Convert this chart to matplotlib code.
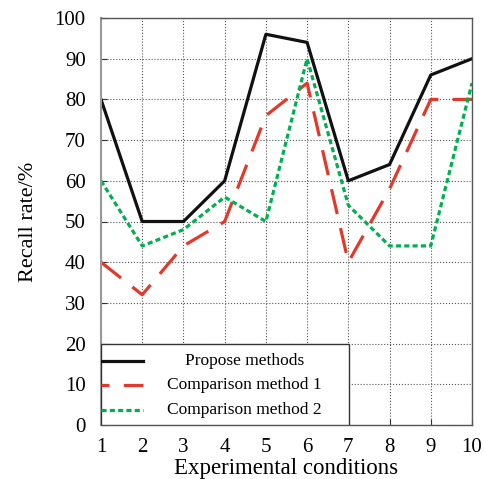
import matplotlib.pyplot as plt
import numpy as np
from matplotlib.lines import Line2D
from matplotlib.patches import Rectangle

plt.rcParams['font.family'] = ['Liberation Serif', 'DejaVu Serif']

conditions = [1, 2, 3, 4, 5, 6, 7, 8, 9, 10]
propose = [80, 50, 50, 60, 96, 94, 60, 64, 86, 90]
comp1 = [40, 32, 44, 50, 76, 84, 40, 58, 80, 80]
comp2 = [60, 44, 48, 56, 50, 90, 54, 44, 44, 84]
labels = ['Propose methods', 'Comparison method 1', 'Comparison method 2']

fig = plt.figure(figsize=(4.85, 4.79), dpi=100)
ax = fig.add_axes([101/485, 1-425/479, 371/485, 407/479])

styles = [dict(color='#111111', lw=2.3),
          dict(color='#e3392b', lw=2.3, dashes=(8, 4.5)),
          dict(color='#00b050', lw=2.3, dashes=(1.6, 1.0))]

for y, st, lab in zip([propose, comp1, comp2], styles, labels):
    ax.plot(conditions, y, label=lab, **st)

ax.set_xlim(1, 10)
ax.set_ylim(0, 100)
ax.set_xticks(conditions)
ax.set_yticks(np.arange(0, 101, 10))
ax.tick_params(axis='both', direction='in', labelsize=15, length=4, color='#333333')
ax.tick_params(axis='y', pad=11)
ax.tick_params(axis='x', pad=9)
ax.grid(True, linestyle=':', color='#555555', lw=0.8)
for s in ax.spines.values():
    s.set_color('#555555')
    s.set_linewidth(1.0)
ax.spines['left'].set_color('#999999')
ax.spines['left'].set_linewidth(1.5)

ax.set_xlabel('Experimental conditions', fontsize=16.5, labelpad=1)
ax.set_ylabel('Recall rate/%', fontsize=16, labelpad=12)

# legend box drawn by hand so the labels can be centred like the original
box_w, box_h = (349 - 101) / 371, (425 - 344) / 407
ax.add_patch(Rectangle((0, 0), box_w, box_h, transform=ax.transAxes,
                       facecolor='white', edgecolor='#333333', lw=1.0, zorder=5))
rows = [1 - (361 - 344) / 81, 1 - (385 - 344) / 81, 1 - (410 - 344) / 81]
handle_styles = [styles[0],
                 dict(color='#e3392b', lw=2.3, linestyle=(5.5, (8, 4.5))),
                 styles[2]]
for r, st, lab in zip(rows, handle_styles, labels):
    yy = r * box_h
    ax.add_line(Line2D([0, 0.113], [yy, yy], transform=ax.transAxes, zorder=6, **st))
    ax.text(0.387, yy, lab, transform=ax.transAxes, ha='center', va='center',
            fontsize=12.5, zorder=6)

fig.savefig('out.png', dpi=100)
